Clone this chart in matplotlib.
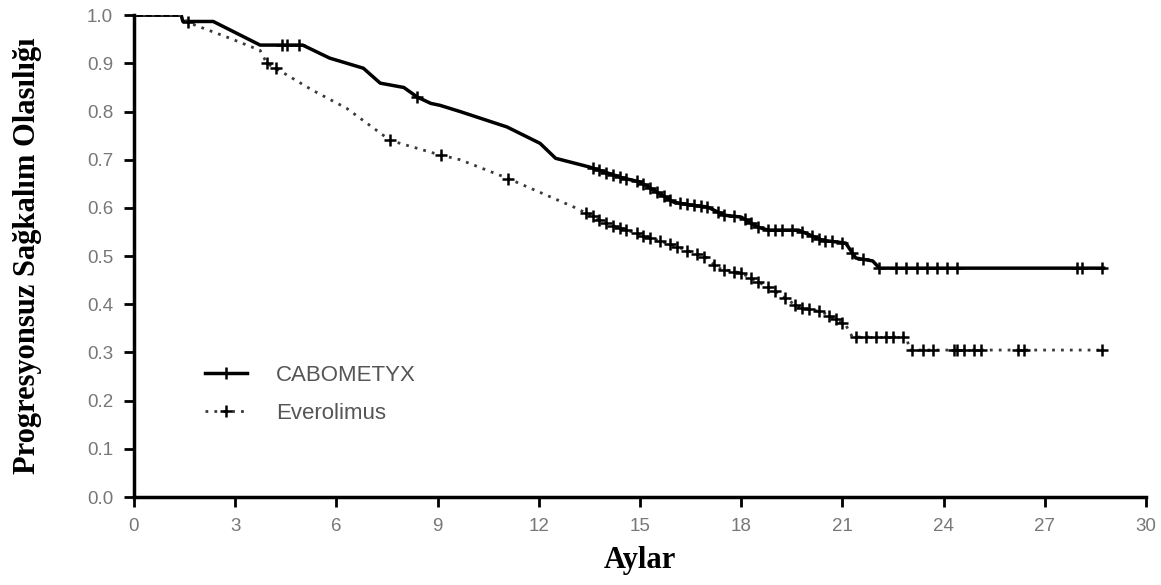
import numpy as np
import matplotlib
matplotlib.use("Agg")
import matplotlib.pyplot as plt

# curve breakpoints (months, survival probability)
cabo_t = [0, 1.4, 1.45, 2.35, 3.74, 5.0, 5.8, 6.8, 7.3, 8.0, 8.4, 8.8, 9.07, 9.67,
          11.06, 12.04, 12.5, 13.5, 14.5, 15.0, 15.5, 16.0, 16.5, 17.0, 17.5, 18.0,
          18.5, 18.8, 19.7, 20.4, 21.1, 21.4, 21.9, 22.1, 28.8]
cabo_s = [1.0, 1.0, 0.987, 0.987, 0.938, 0.938, 0.911, 0.89, 0.859, 0.85, 0.83, 0.817,
          0.813, 0.80, 0.768, 0.734, 0.703, 0.685, 0.662, 0.654, 0.633, 0.612, 0.606,
          0.602, 0.585, 0.581, 0.56, 0.554, 0.554, 0.533, 0.527, 0.496, 0.49, 0.475, 0.475]

eve_t = [0, 1.36, 1.6, 2.85, 3.74, 3.94, 4.2, 5.3, 6.3, 7.6, 9.07, 9.67, 11.06, 13.1,
         14.0, 15.0, 16.0, 17.0, 17.3, 18.0, 18.95, 19.7, 20.4, 21.1, 21.3, 22.9, 23.0, 28.8]
eve_s = [1.0, 1.0, 0.985, 0.952, 0.927, 0.90, 0.89, 0.844, 0.807, 0.74, 0.71, 0.70,
         0.662, 0.60, 0.568, 0.545, 0.522, 0.496, 0.475, 0.465, 0.43, 0.394, 0.384,
         0.357, 0.332, 0.332, 0.305, 0.305]

# censor times
cabo_cens = [0, 4.4, 4.55, 4.9, 8.4, 13.6, 13.8, 14.0, 14.2, 14.4, 14.6, 14.9, 15.1,
             15.3, 15.5, 15.7, 15.9, 16.2, 16.4, 16.6, 16.8, 17.0, 17.3, 17.5, 17.8,
             18.1, 18.3, 18.5, 18.8, 19.0, 19.2, 19.5, 19.8, 20.1, 20.3, 20.5, 20.7,
             21.0, 21.3, 21.6, 22.1, 22.6, 22.9, 23.2, 23.5, 23.8, 24.1, 24.4, 27.96,
             28.1, 28.7]
eve_cens = [1.6, 3.94, 4.2, 7.6, 9.1, 11.1, 13.4, 13.6, 13.8, 14.0, 14.2, 14.4, 14.6,
            14.9, 15.1, 15.3, 15.6, 15.9, 16.1, 16.4, 16.7, 16.9, 17.2, 17.5, 17.8,
            18.0, 18.3, 18.5, 18.8, 19.0, 19.3, 19.6, 19.8, 20.0, 20.3, 20.6, 20.8,
            21.0, 21.4, 21.7, 22.0, 22.3, 22.5, 22.8, 23.07, 23.4, 23.7, 24.3, 24.4,
            24.6, 24.9, 25.1, 26.2, 26.4, 28.7]

x_ticks = [0, 3, 6, 9, 12, 15, 18, 21, 24, 27, 30]
y_ticks = [0.0, 0.1, 0.2, 0.3, 0.4, 0.5, 0.6, 0.7, 0.8, 0.9, 1.0]

fig = plt.figure(figsize=(11.61, 5.85), dpi=100)
ax = fig.add_axes([0.1154, 0.1504, 0.8716, 0.8236])

ax.plot(cabo_t, cabo_s, color="black", lw=2.5, solid_capstyle="butt")
ax.plot(cabo_cens, np.interp(cabo_cens, cabo_t, cabo_s), ls="none", marker="+",
        ms=8, mew=1.8, color="black")

ax.plot(eve_t, eve_s, color="#3a3a3a", lw=2.0, ls=(0, (1, 2.2)))
ax.plot(eve_cens, np.interp(eve_cens, eve_t, eve_s), ls="none", marker="+",
        ms=8, mew=1.8, color="black")

# legend
h1, = ax.plot([], [], color="black", lw=2.5, marker="+", ms=8, mew=1.8)
h2, = ax.plot([], [], color="#3a3a3a", lw=2.0, ls=(0, (1, 2.2)), marker="+", ms=8,
              mew=1.8, mec="black")
leg = ax.legend([h1, h2], ["CABOMETYX", "Everolimus"], loc="upper left",
                bbox_to_anchor=(0.05, 0.315), frameon=False, handlelength=1.9,
                handletextpad=1.3, labelspacing=0.75,
                prop={"family": "Liberation Sans", "size": 16})
for t in leg.get_texts():
    t.set_color("#555555")

ax.set_xlim(0, 30)
ax.set_ylim(0, 1.0)
ax.set_xticks(x_ticks)
ax.set_yticks(y_ticks)
ax.set_xticklabels([str(v) for v in x_ticks])
ax.set_yticklabels(["%.1f" % v for v in y_ticks])

for s in ["top", "right"]:
    ax.spines[s].set_visible(False)
for s in ["left", "bottom"]:
    ax.spines[s].set_linewidth(2.5)
ax.tick_params(direction="out", length=7, width=2, colors="black",
               labelcolor="#777777", labelsize=13.5, pad=8)
for lab in ax.get_xticklabels() + ax.get_yticklabels():
    lab.set_family("Liberation Sans")

ax.set_xlabel("Aylar", family="Liberation Serif", fontweight="bold", fontsize=22,
              labelpad=8)
ax.set_ylabel("Progresyonsuz Sağkalım Olasılığı", family="Liberation Serif",
              fontweight="bold", fontsize=22, labelpad=32)

fig.savefig("out.png", dpi=100)
